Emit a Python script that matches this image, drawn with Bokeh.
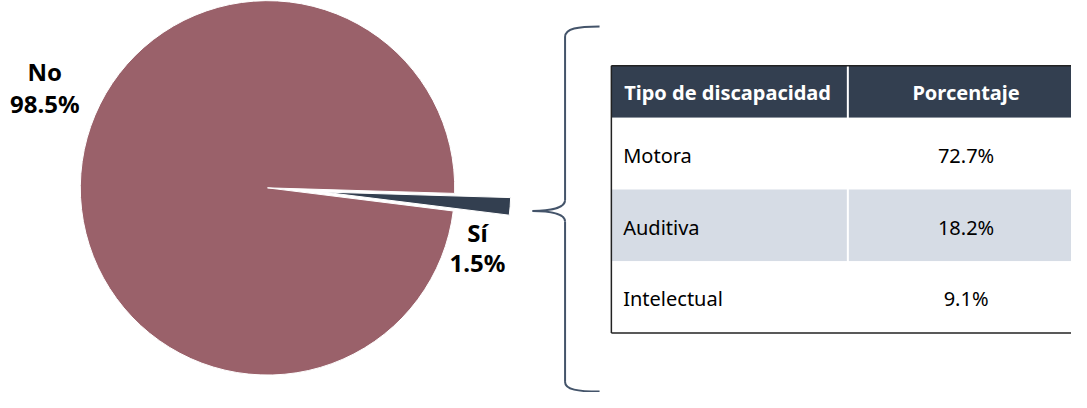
import math
from bokeh.plotting import figure
from bokeh.models import Range1d
from bokeh.core.properties import value
from bokeh.embed import file_html
from bokeh.resources import INLINE

# ---- data ----
categories = ["No", "Sí"]
shares = [98.5, 1.5]
tipos = ["Motora", "Auditiva", "Intelectual"]
porcentajes = [72.7, 18.2, 9.1]
headers = ["Tipo de discapacidad", "Porcentaje"]

# ---- style ----
FONT = value("Noto Sans")
PIE_COLORS = {"No": "#9a616a", "Sí": "#333f50"}
DARK = "#333f50"
LIGHT = "#d6dce5"
BRACE = "#44546a"

W, H = 1071, 392
p = figure(width=W, height=H, output_backend="svg", toolbar_location=None,
           x_range=Range1d(0, 1087), y_range=Range1d(0, 408),
           x_axis_location=None, y_axis_location=None, min_border=0)
p.outline_line_color = None
p.grid.visible = False
p.background_fill_color = "white"


def Y(py):  # convert screen-like y (down) to data y (up)
    return 408 - py


# ---- pie ----
cx, cy, r = 271, Y(195), 190
start = math.radians(-7.1)
order = ["Sí", "No"]
ang = start
for cat in order:
    v = shares[categories.index(cat)]
    span = 2 * math.pi * v / 100.0
    a0, a1 = ang, ang + span
    ox = oy = 0.0
    if cat == "Sí":
        mid = (a0 + a1) / 2
        ox, oy = 57 * math.cos(mid), 57 * math.sin(mid)
    p.wedge(x=[cx + ox], y=[cy + oy], radius=r, start_angle=[a0], end_angle=[a1],
            fill_color=PIE_COLORS[cat], line_color="white", line_width=1)
    ang = a1

# pie labels
label_pos = {"No": (45, 74, 107), "Sí": (484, 241, 273)}
for cat, v in zip(categories, shares):
    lx, ly1, ly2 = label_pos[cat]
    p.text(x=[lx, lx], y=[Y(ly1), Y(ly2)], text=[cat, f"{v:.1f}%"],
           text_font=FONT, text_font_style="bold", text_font_size="24px",
           text_color="black", text_align="center", text_baseline="middle")

# ---- brace ----
bx, tipx = 573, 540
segs = [
    (608, 27, 573, 38, 586, 27, 573, 29),
    (573, 208, 540, 219, 573, 216, 558, 219),
    (540, 219, 573, 230, 558, 219, 573, 222),
    (573, 397, 608, 407, 573, 405, 586, 407),
]
for x0, y0, x1, y1, c0x, c0y, c1x, c1y in segs:
    p.bezier(x0=[x0], y0=[Y(y0)], x1=[x1], y1=[Y(y1)], cx0=[c0x], cy0=[Y(c0y)],
             cx1=[c1x], cy1=[Y(c1y)], line_color=BRACE, line_width=2)
p.segment(x0=[bx, bx], y0=[Y(38), Y(230)], x1=[bx, bx], y1=[Y(208), Y(397)],
          line_color=BRACE, line_width=2)

# ---- table ----
tl, tr, ttop, hbot, tbot = 620, 1110, 68, 122, 346
col_div = 860
row_h = (tbot - hbot) / len(tipos)
# header
p.quad(left=[tl], right=[tr], top=[Y(ttop)], bottom=[Y(hbot)], fill_color=DARK, line_color=None)
# rows
for i, t in enumerate(tipos):
    top = hbot + i * row_h
    fill = LIGHT if i % 2 == 1 else "white"
    p.quad(left=[tl], right=[tr], top=[Y(top)], bottom=[Y(top + row_h)], fill_color=fill, line_color=None)
# column divider (white)
p.segment(x0=[col_div], y0=[Y(ttop)], x1=[col_div], y1=[Y(tbot)], line_color="white", line_width=2)
# border
p.segment(x0=[tl, tl, tl], y0=[Y(ttop), Y(ttop), Y(tbot)], x1=[tl, tr, tr], y1=[Y(tbot), Y(ttop), Y(tbot)],
          line_color="#222222", line_width=1.5)

col1_x, col2_x = 632, 980
p.text(x=[col1_x + 1], y=[Y(96)], text=[headers[0]], text_font=FONT, text_font_style="bold",
       text_font_size="20px", text_color="white", text_align="left", text_baseline="middle")
p.text(x=[col2_x], y=[Y(96)], text=[headers[1]], text_font=FONT, text_font_style="bold",
       text_font_size="20px", text_color="white", text_align="center", text_baseline="middle")
for i, (t, v) in enumerate(zip(tipos, porcentajes)):
    yc = hbot + (i + 0.5) * row_h + 2
    p.text(x=[col1_x], y=[Y(yc)], text=[t], text_font=FONT, text_font_size="20px",
           text_color="black", text_align="left", text_baseline="middle")
    p.text(x=[col2_x], y=[Y(yc)], text=[f"{v:.1f}%"], text_font=FONT, text_font_size="20px",
           text_color="black", text_align="center", text_baseline="middle")

open("out.html", "w").write(file_html(p, INLINE))
